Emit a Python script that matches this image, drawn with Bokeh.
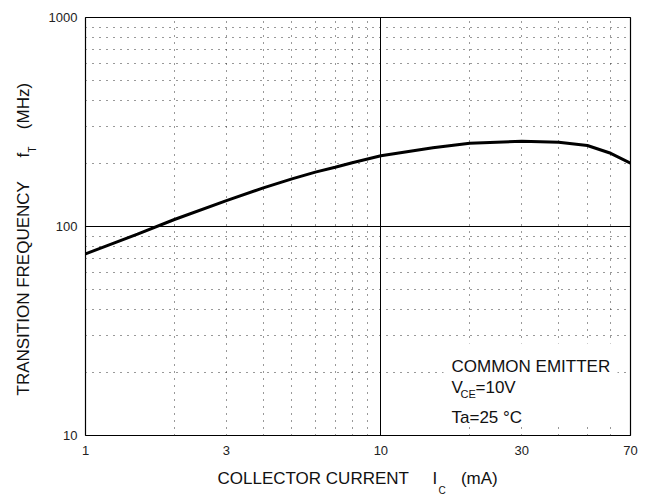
import math
from bokeh.plotting import figure
from bokeh.models import FixedTicker, Grid, Label, BoxAnnotation, Title
from bokeh.embed import file_html
from bokeh.resources import INLINE

# ---- data ----
ic_ma = [1, 1.5, 2, 3, 4, 5, 6, 7, 8, 10, 15, 20, 30, 40, 50, 60, 70]
ft_mhz = [74, 92, 108, 133, 153, 169, 182, 192, 202, 218, 238, 250, 256, 253, 244, 224, 201]

x_ticks = [1, 3, 10, 30, 70]
x_tick_labels = ["1", "3", "10", "30", "70"]
y_ticks = [10, 100, 1000]
y_tick_labels = ["10", "100", "1000"]

x_minor_grid = [2, 3, 4, 5, 6, 7, 8, 9, 20, 30, 40, 50, 60]
y_minor_grid = [20, 30, 40, 50, 60, 70, 80, 90, 200, 300, 400, 500, 600, 700, 800, 900]
x_major_grid = [10]
y_major_grid = [100]

FONT = "Liberation Sans"
NB = "\u00a0"

FRAME_L, FRAME_T, FRAME_W, FRAME_H = 85, 17, 545, 418
XMAX_LOG = math.log10(70)


def px_x(px):
    return 10 ** ((px - FRAME_L) / FRAME_W * XMAX_LOG)


def px_y(py):
    return 10 ** (3 - (py - FRAME_T) / FRAME_H * 2)


p = figure(x_axis_type="log", y_axis_type="log",
           x_range=(1, 70), y_range=(10, 1000),
           frame_width=FRAME_W, frame_height=FRAME_H,
           min_border_left=85, min_border_right=26,
           min_border_top=17, min_border_bottom=62,
           output_backend="svg", toolbar_location=None)

p.background_fill_color = "white"
p.border_fill_color = "white"
p.outline_line_color = "black"
p.outline_line_width = 1.2

# axes
for ax, ticks, labels in ((p.xaxis[0], x_ticks, x_tick_labels), (p.yaxis[0], y_ticks, y_tick_labels)):
    ax.ticker = FixedTicker(ticks=ticks, minor_ticks=[])
    ax.major_label_overrides = {t: l for t, l in zip(ticks, labels)}
    ax.axis_line_color = None
    ax.major_tick_line_color = None
    ax.minor_tick_line_color = None
    ax.major_tick_out = 0
    ax.major_tick_in = 0
    ax.minor_tick_out = 0
    ax.minor_tick_in = 0
    ax.major_label_text_font = FONT
    ax.major_label_text_font_size = "13px"
    ax.major_label_text_color = "#222222"
p.xaxis.major_label_standoff = 10
p.yaxis.major_label_standoff = 8

# grids
p.xgrid.ticker = FixedTicker(ticks=x_minor_grid)
p.ygrid.ticker = FixedTicker(ticks=y_minor_grid)
for g in (p.xgrid[0], p.ygrid[0]):
    g.grid_line_color = "#333333"
    g.grid_line_width = 1
    g.grid_line_dash = "1 6"
p.add_layout(Grid(dimension=0, ticker=FixedTicker(ticks=x_major_grid),
                  grid_line_color="black", grid_line_width=1))
p.add_layout(Grid(dimension=1, ticker=FixedTicker(ticks=y_major_grid),
                  grid_line_color="black", grid_line_width=1))

# curve
p.line(ic_ma, ft_mhz, line_color="black", line_width=3)

# white box behind the condition text
p.add_layout(BoxAnnotation(left=px_x(443), right=px_x(617), top=px_y(343), bottom=px_y(424),
                           fill_color="white", fill_alpha=1.0, line_color=None))


def lab(px, py, text, size="17px"):
    p.add_layout(Label(x=px_x(px), y=px_y(py), text=text,
                       text_font=FONT, text_font_size=size, text_color="#111111",
                       text_align="left", text_baseline="alphabetic"))


# condition text
lab(451, 366, "COMMON EMITTER")
lab(451, 387, "V")
lab(460, 393, "CE", size="11px")
lab(475, 387, "=10V")
lab(451, 417, "Ta=25 °C")


def title(text, offset, standoff, valign, size="17px"):
    return Title(text=text, align="left", offset=offset, standoff=standoff,
                 vertical_align=valign, text_font=FONT, text_font_size=size,
                 text_font_style="normal", text_color="#111111")


# x-axis title with subscript
x_title = "COLLECTOR CURRENT" + NB * 5 + "I" + NB * 5 + "(mA)"
p.add_layout(title(x_title, 132, 23, "top"), "below")
p.add_layout(title("C", 353, -33, "top", size="10px"), "below")

# y-axis title with subscript
y_title = "TRANSITION FREQUENCY" + NB * 5 + "f" + NB * 5 + "(MHz)"
p.add_layout(title(y_title, 40, 21, "top"), "left")
p.add_layout(title("T", 283, -69, "bottom", size="10px"), "left")

open("out.html", "w").write(file_html(p, INLINE))
